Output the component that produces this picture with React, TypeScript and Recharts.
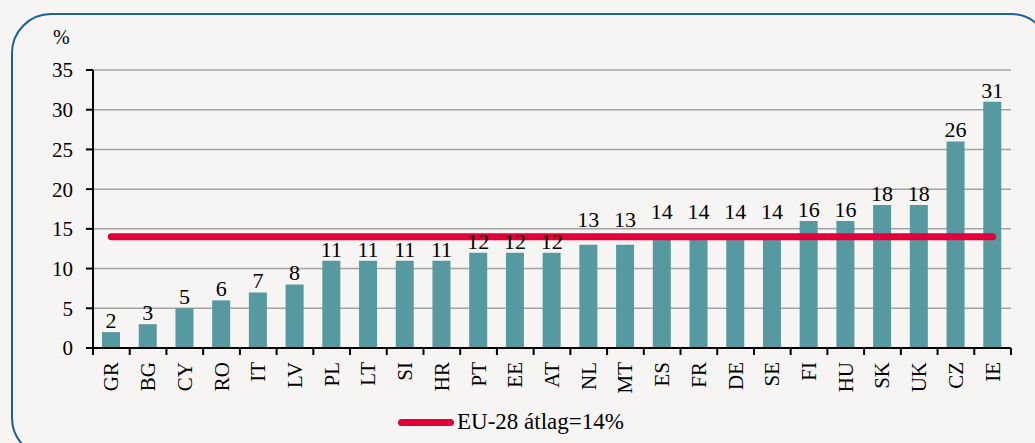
import { BarChart, Bar, XAxis, YAxis, CartesianGrid, LabelList, ReferenceLine, Legend } from 'recharts';

const countries = ['GR', 'BG', 'CY', 'RO', 'IT', 'LV', 'PL', 'LT', 'SI', 'HR', 'PT', 'EE', 'AT', 'NL', 'MT', 'ES', 'FR', 'DE', 'SE', 'FI', 'HU', 'SK', 'UK', 'CZ', 'IE'];
const shares = [2, 3, 5, 6, 7, 8, 11, 11, 11, 11, 12, 12, 12, 13, 13, 14, 14, 14, 14, 16, 16, 18, 18, 26, 31];
const euAverage = 14;
const yTicks = [0, 5, 10, 15, 20, 25, 30, 35];
const legendLabel = 'EU-28 átlag=14%';

const chartData = countries.map((c, i) => ({ country: c, value: shares[i] }));

const W = 1035;
const H = 443;
const PLOT_LEFT = 93;
const PLOT_RIGHT = 1011;
const BAND = (PLOT_RIGHT - PLOT_LEFT) / countries.length;
const FONT = "'Liberation Serif', 'Times New Roman', serif";
const BAR_COLOR = '#5799a1';
const RED = '#e2003a';

const XTick = (props: any) => {
  const { x, y, payload, index } = props;
  const last = index === countries.length - 1;
  return (
    <g>
      <line x1={x - BAND / 2} y1={y} x2={x - BAND / 2} y2={y + 7} stroke="#000" strokeWidth={2} />
      {last && <line x1={x + BAND / 2} y1={y} x2={x + BAND / 2} y2={y + 7} stroke="#000" strokeWidth={2} />}
      <text
        x={x + 7}
        y={y + 14}
        transform={`rotate(-90, ${x + 7}, ${y + 14})`}
        textAnchor="end"
        fontSize={21}
        style={{ fontFamily: FONT }}
        fill="#000"
      >
        {payload.value}
      </text>
    </g>
  );
};

// value labels; the ones just under the average line get lifted above it
const ValueLabel = (props: any) => {
  const { x, y, width, value } = props;
  const lifted = value >= euAverage - 1 && value <= euAverage;
  const gap = lifted ? 18 : 4;
  return (
    <text
      x={x + width / 2}
      y={y - gap}
      textAnchor="middle"
      fontSize={22}
      style={{ fontFamily: FONT }}
      fill="#000"
    >
      {value}
    </text>
  );
};

const LegendContent = () => (
  <div style={{ display: 'flex', alignItems: 'center', fontFamily: FONT, fontSize: 23, color: '#000' }}>
    <div style={{ width: 56, height: 7, borderRadius: 4, background: RED, marginRight: 3 }} />
    <span>{legendLabel}</span>
  </div>
);

const App = () => {
  return (
    <div style={{ position: 'absolute', left: 0, top: 0, width: W, height: H, background: '#f6f5f3', overflow: 'hidden', fontFamily: FONT }}>
      <div
        style={{
          position: 'absolute',
          left: 11,
          top: 13,
          width: 1040,
          height: 445,
          border: '2px solid #1a5f9e',
          borderRadius: 40,
          boxSizing: 'border-box',
        }}
      />
      <div style={{ position: 'absolute', left: 53, top: 26, fontSize: 20, color: '#000' }}>%</div>
      <div style={{ position: 'absolute', left: 0, top: 0, fontFamily: FONT }}>
        <BarChart
          width={W}
          height={H}
          data={chartData}
          margin={{ top: 70, right: W - PLOT_RIGHT, left: 0, bottom: 0 }}
          barSize={18}
          style={{ fontFamily: FONT }}
        >
          <CartesianGrid vertical={false} stroke="#a3a3a3" strokeWidth={1.5} />
          <XAxis
            dataKey="country"
            interval={0}
            height={95}
            tickSize={0}
            tickMargin={0}
            tickLine={false}
            axisLine={{ stroke: '#000', strokeWidth: 2 }}
            tick={<XTick />}
          />
          <XAxis xAxisId="top" orientation="top" dataKey="country" height={0} tick={false} tickLine={false} axisLine={{ stroke: '#000', strokeWidth: 2 }} />
          <YAxis
            domain={[0, 35]}
            ticks={yTicks}
            width={PLOT_LEFT}
            tickSize={7}
            tickMargin={13}
            axisLine={{ stroke: '#000', strokeWidth: 2 }}
            tickLine={{ stroke: '#000', strokeWidth: 2 }}
            tick={{ fill: '#000', fontSize: 21, style: { fontFamily: FONT } }}
          />
          <YAxis yAxisId="right" orientation="right" domain={[0, 35]} width={0} tick={false} tickLine={false} axisLine={{ stroke: '#000', strokeWidth: 2 }} />
          <Bar dataKey="value" fill={BAR_COLOR} isAnimationActive={false}>
            <LabelList dataKey="value" content={<ValueLabel />} />
          </Bar>
          <ReferenceLine
            segment={[
              { x: countries[0], y: euAverage },
              { x: countries[countries.length - 1], y: euAverage },
            ]}
            stroke={RED}
            strokeWidth={7}
            strokeLinecap="round"
          />
          <Legend
            layout="horizontal"
            verticalAlign="middle"
            content={<LegendContent />}
            wrapperStyle={{ position: 'absolute', left: 398, top: 409, width: 'auto' }}
          />
        </BarChart>
      </div>
    </div>
  );
};

export default App;
